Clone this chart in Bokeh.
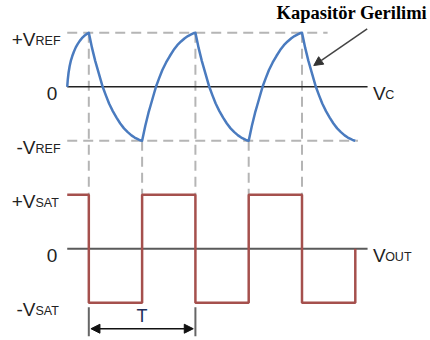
from bokeh.plotting import figure
from bokeh.models import Range1d, Arrow, NormalHead
from bokeh.core.properties import value
from bokeh.embed import file_html
from bokeh.resources import INLINE

# ---- data (time in half-periods, T = 2; levels in units of V_REF / V_SAT) ----
vc_t = [0.595, 0.605, 0.62, 0.64, 0.665, 0.69, 0.72, 0.755, 0.79, 0.83, 0.87, 0.91, 0.955, 1.0,
        1.03, 1.06, 1.09, 1.12, 1.155, 1.19, 1.225, 1.26, 1.32, 1.38, 1.45, 1.52, 1.59, 1.66, 1.73, 1.80, 1.86, 1.92, 1.96, 2.0,
        2.03, 2.06, 2.09, 2.12, 2.155, 2.19, 2.225, 2.26, 2.32, 2.38, 2.45, 2.52, 2.59, 2.66, 2.73, 2.80, 2.86, 2.92, 2.96, 3.0,
        3.03, 3.06, 3.09, 3.12, 3.155, 3.19, 3.225, 3.26, 3.32, 3.38, 3.45, 3.52, 3.59, 3.66, 3.73, 3.80, 3.86, 3.92, 3.96, 4.0,
        4.03, 4.06, 4.09, 4.12, 4.155, 4.19, 4.225, 4.26, 4.32, 4.38, 4.45, 4.52, 4.59, 4.66, 4.73, 4.80, 4.86, 4.92, 4.96, 5.0,
        5.03, 5.06, 5.09, 5.12, 5.155, 5.19, 5.225, 5.26, 5.32, 5.38, 5.45, 5.52, 5.59, 5.66, 5.73, 5.80, 5.86, 5.92, 5.96, 6.0]
vc_v = [0.0, 0.13, 0.26, 0.38, 0.49, 0.57, 0.65, 0.73, 0.79, 0.85, 0.90, 0.94, 0.975, 1.0,
        0.86, 0.72, 0.60, 0.48, 0.36, 0.24, 0.12, 0.0, -0.16, -0.31, -0.45, -0.57, -0.68, -0.77, -0.84, -0.90, -0.94, -0.97, -0.99, -1.0,
        -0.86, -0.72, -0.60, -0.48, -0.36, -0.24, -0.12, 0.0, 0.16, 0.31, 0.45, 0.57, 0.68, 0.77, 0.84, 0.90, 0.94, 0.97, 0.99, 1.0,
        0.86, 0.72, 0.60, 0.48, 0.36, 0.24, 0.12, 0.0, -0.16, -0.31, -0.45, -0.57, -0.68, -0.77, -0.84, -0.90, -0.94, -0.97, -0.99, -1.0,
        -0.86, -0.72, -0.60, -0.48, -0.36, -0.24, -0.12, 0.0, 0.16, 0.31, 0.45, 0.57, 0.68, 0.77, 0.84, 0.90, 0.94, 0.97, 0.99, 1.0,
        0.86, 0.72, 0.60, 0.48, 0.36, 0.24, 0.12, 0.0, -0.16, -0.31, -0.45, -0.57, -0.68, -0.77, -0.84, -0.90, -0.94, -0.97, -0.99, -1.0]

vout_t = [0.595, 1.0, 1.0, 2.0, 2.0, 3.0, 3.0, 4.0, 4.0, 5.0, 5.0, 6.0, 6.0]
vout_v = [1, 1, -1, -1, 1, 1, -1, -1, 1, 1, -1, -1, 0]

peak_t = [1.0, 3.0, 5.0]
trough_t = [2.0, 4.0]
period_marks = [1.0, 3.0]

left_main = ["+V", "0", "-V", "+V", "0", "-V"]
left_sub = ["REF", "", "REF", "SAT", "", "SAT"]
left_levels = [1, 0, -1, 1, 0, -1]
annotation = "Kapasitör Gerilimi"

# ---- layout constants ----
TOP = 3.0      # vertical offset of the V_C panel
T0 = 0.595     # start of traces
AX_END = 6.23
TXT = "#222222"
FONT = "Liberation Sans"

p = figure(width=430, height=340, output_backend="svg", toolbar_location=None,
           x_range=Range1d(-0.657, 7.411), y_range=Range1d(-1.698, 4.598),
           x_axis_location=None, y_axis_location=None, min_border=0)
p.grid.visible = False
p.outline_line_color = None
p.background_fill_color = "white"
p.border_fill_color = "white"

dash_col = "#b5b5b5"
# horizontal dashed reference lines
p.line([T0, 5.48], [TOP + 1, TOP + 1], line_color=dash_col, line_width=2, line_dash="10 6")
p.line([T0, 6.05], [TOP - 1, TOP - 1], line_color=dash_col, line_width=2, line_dash="10 6")
# vertical dashed lines
p.segment(x0=peak_t, y0=[TOP + 1] * len(peak_t), x1=peak_t, y1=[1] * len(peak_t),
          line_color=dash_col, line_width=2, line_dash="10 6")
p.segment(x0=trough_t, y0=[TOP - 1] * len(trough_t), x1=trough_t, y1=[1] * len(trough_t),
          line_color=dash_col, line_width=2, line_dash="10 6")

# axis lines
p.line([T0, AX_END], [TOP, TOP], line_color="#222222", line_width=1.5)
p.line([T0, AX_END], [0, 0], line_color="#5a5a5a", line_width=2)

# waveforms
p.line(vc_t, [v + TOP for v in vc_v], line_color="#4a7bbf", line_width=2.5,
       line_join="round")
p.line(vout_t, vout_v, line_color="#a5504d", line_width=2.5)

# period marker
p.segment(x0=period_marks, y0=[-1.08] * 2, x1=period_marks, y1=[-1.62] * 2,
          line_color="#666666", line_width=2)
p.add_layout(Arrow(start=NormalHead(size=9, fill_color="#111111", line_color="#111111"),
                   end=NormalHead(size=9, fill_color="#111111", line_color="#111111"),
                   x_start=period_marks[0] + 0.04, y_start=-1.48,
                   x_end=period_marks[1] - 0.04, y_end=-1.48,
                   line_color="#111111", line_width=1.5))
p.text(x=[2.0], y=[-1.25], text=["T"], text_align="center", text_baseline="middle",
       text_font=value(FONT), text_font_size="18px", text_color="#1f2f5a")

# left labels
ys = [lv + (TOP if i < 3 else 0) for i, lv in enumerate(left_levels)]
mains_x, mains_y, mains_t = [], [], []
zero_x, zero_y = [], []
for i, (m, s) in enumerate(zip(left_main, left_sub)):
    if m == "0":
        zero_x.append(0.41)
        zero_y.append(ys[i])
    else:
        mains_x.append(0.0)
        mains_y.append(ys[i])
        mains_t.append(m)
p.text(x=mains_x, y=[y - 0.12 for y in mains_y], text=mains_t, text_align="right",
       text_baseline="alphabetic", text_font=value(FONT), text_font_size="19px", text_color=TXT)
subs = [s for s in left_sub if s]
p.text(x=[0.0] * len(subs), y=[y - 0.15 for y in mains_y], text=subs, text_align="left",
       text_baseline="alphabetic", text_font=value(FONT), text_font_size="12.5px", text_color=TXT)
p.text(x=zero_x, y=[y - 0.12 for y in zero_y], text=["0"] * len(zero_x), text_align="right",
       text_baseline="alphabetic", text_font=value(FONT), text_font_size="19px", text_color=TXT)

# right labels
p.text(x=[6.33, 6.33], y=[TOP - 0.12, -0.12], text=["V", "V"], text_align="left",
       text_baseline="alphabetic", text_font=value(FONT), text_font_size="19px", text_color=TXT)
p.text(x=[6.56, 6.56], y=[TOP - 0.15, -0.15], text=["C", "OUT"], text_align="left",
       text_baseline="alphabetic", text_font=value(FONT), text_font_size="12.5px", text_color=TXT)

# annotation
p.text(x=[5.934], y=[4.36], text=[annotation], text_align="center", text_baseline="middle",
       text_font=value("Liberation Serif"), text_font_style="bold", text_font_size="18.5px",
       text_color="#000000")
p.add_layout(Arrow(end=NormalHead(size=9, fill_color="#333333", line_color="#333333"),
                   x_start=6.223, y_start=4.074, x_end=5.221, y_end=3.394,
                   line_color="#444444", line_width=1.5))

open("out.html", "w").write(file_html(p, INLINE))
